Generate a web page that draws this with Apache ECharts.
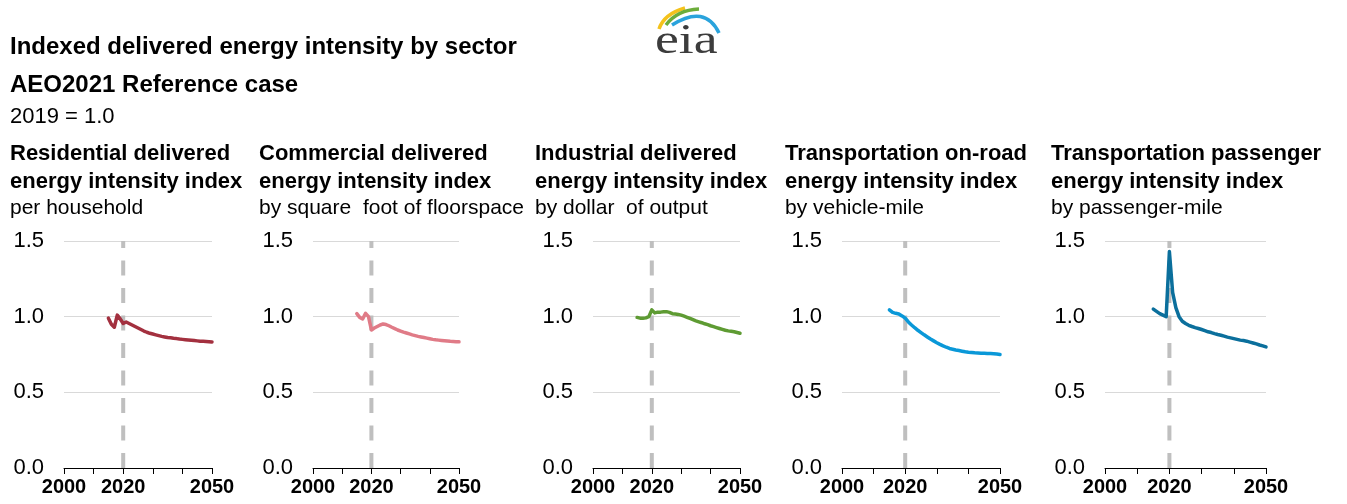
<!DOCTYPE html>
<html>
<head>
<meta charset="utf-8">
<title>Indexed delivered energy intensity by sector</title>
<script src="https://cdn.jsdelivr.net/npm/echarts@6/dist/echarts.min.js"></script>
<style>
html, body { margin: 0; padding: 0; background: #fff; }
#chart { width: 1347px; height: 504px; }
</style>
</head>
<body>
<div id="chart"></div>
<script>
// data (2019 = 1.0)
var years = [2015, 2016, 2017, 2018, 2019, 2020, 2021, 2022, 2023, 2024, 2025, 2026,
	2027, 2028, 2029, 2030, 2031, 2032, 2033, 2034, 2035, 2036, 2037, 2038, 2039,
	2040, 2041, 2042, 2043, 2044, 2045, 2046, 2047, 2048, 2049, 2050]

var residential = [0.99, 0.95, 0.93, 1.01, 0.985, 0.955, 0.965, 0.955, 0.945, 0.935,
	0.925, 0.915, 0.905, 0.897, 0.89, 0.885, 0.88, 0.875, 0.87, 0.866, 0.862, 0.86,
	0.857, 0.855, 0.852, 0.85, 0.848, 0.846, 0.844, 0.842, 0.84, 0.838, 0.837, 0.836,
	0.835, 0.833]
var commercial = [1.02, 0.995, 0.985, 1.022, 1.0, 0.912, 0.925, 0.935, 0.945, 0.952,
	0.948, 0.94, 0.93, 0.921, 0.912, 0.905, 0.898, 0.892, 0.886, 0.88, 0.875, 0.87,
	0.866, 0.862, 0.858, 0.854, 0.85, 0.847, 0.845, 0.843, 0.841, 0.839, 0.837, 0.836,
	0.835, 0.834]
var industrial = [0.995, 0.99, 0.99, 0.992, 1.0, 1.045, 1.025, 1.03, 1.03, 1.032, 1.033,
	1.028, 1.02, 1.018, 1.015, 1.01, 1.003, 0.996, 0.988, 0.98, 0.972, 0.966, 0.96,
	0.953, 0.947, 0.94, 0.934, 0.928, 0.922, 0.916, 0.91, 0.906, 0.903, 0.9, 0.895, 0.89]
var onRoad = [1.045, 1.028, 1.022, 1.018, 1.005, 0.99, 0.965, 0.945, 0.927, 0.91, 0.895,
	0.88, 0.866, 0.852, 0.84, 0.828, 0.817, 0.807, 0.798, 0.79, 0.785, 0.78, 0.776,
	0.772, 0.768, 0.765, 0.763, 0.761, 0.76, 0.759, 0.758, 0.757, 0.756, 0.755, 0.753, 0.75]
var passenger = [1.05, 1.035, 1.02, 1.01, 1.0, 1.43, 1.16, 1.06, 1.0, 0.97, 0.955, 0.943,
	0.935, 0.928, 0.922, 0.915, 0.908, 0.9, 0.895, 0.888, 0.882, 0.877, 0.871, 0.865,
	0.86, 0.855, 0.85, 0.845, 0.842, 0.838, 0.832, 0.826, 0.82, 0.813, 0.807, 0.8]

var panelTitles = [
	['Residential delivered', 'energy intensity index'],
	['Commercial delivered', 'energy intensity index'],
	['Industrial delivered', 'energy intensity index'],
	['Transportation on-road', 'energy intensity index'],
	['Transportation passenger', 'energy intensity index']
]
var panelSubtitles = ['per household', 'by square  foot of floorspace', 'by dollar  of output',
	'by vehicle-mile', 'by passenger-mile']
var xLabelYears = [2000, 2020, 2050]
var markYear = 2020

var panelSeries = [residential, commercial, industrial, onRoad, passenger]
var colors = ['#a3303f', '#e07b87', '#5e9b33', '#0a98d8', '#0b6f9c']

// panel layout (px)
var gridLeft = [64, 313, 593, 842, 1105]
var gridWidth = [148, 146, 147, 158, 161]
var textLeft = [10, 259, 535, 785, 1051]

var FONT = '"Liberation Sans", Arial, sans-serif'

var myChart = echarts.init(document.getElementById('chart'))

var grids = [], xAxes = [], yAxes = [], series = [], texts = []

panelSeries.forEach(function (vals, i) {
	grids.push({ left: gridLeft[i], width: gridWidth[i], top: 241, height: 227 })
	xAxes.push({
		type: 'value',
		gridIndex: i,
		min: 2000,
		max: 2050,
		interval: 10,
		axisLine: { lineStyle: { color: '#000', width: 1 } },
		axisTick: { length: 6, lineStyle: { color: '#000' } },
		splitLine: { show: false },
		axisLabel: {
			margin: 9,
			color: '#000',
			fontFamily: FONT,
			fontWeight: 'bold',
			fontSize: 20,
			showMinLabel: true,
			showMaxLabel: true,
			formatter: function (v) {
				return xLabelYears.indexOf(v) >= 0 ? String(v) : ''
			}
		}
	})
	yAxes.push({
		type: 'value',
		gridIndex: i,
		min: 0,
		max: 1.5,
		interval: 0.5,
		axisLine: { show: false },
		axisTick: { show: false },
		splitLine: { lineStyle: { color: '#d9d9d9', width: 1 } },
		axisLabel: {
			margin: 20,
			color: '#000',
			fontFamily: FONT,
			fontSize: 22,
			formatter: function (v) { return v.toFixed(1) }
		}
	})
	// dashed reference line at the last historical year
	series.push({
		type: 'line',
		xAxisIndex: i,
		yAxisIndex: i,
		silent: true,
		symbol: 'none',
		z: 1,
		data: [[markYear, 0], [markYear, 1.5]],
		lineStyle: { color: '#bfbfbf', width: 4, type: [15, 12.5] }
	})
	series.push({
		type: 'line',
		xAxisIndex: i,
		yAxisIndex: i,
		symbol: 'none',
		z: 3,
		data: years.map(function (y, k) { return [y, vals[k]] }),
		lineStyle: { color: colors[i], width: 3.5, cap: 'round', join: 'round' }
	})
	texts.push({
		type: 'text', left: textLeft[i], top: 143,
		style: { text: panelTitles[i][0], font: 'bold 22px ' + FONT, fill: '#000' }
	})
	texts.push({
		type: 'text', left: textLeft[i], top: 171,
		style: { text: panelTitles[i][1], font: 'bold 22px ' + FONT, fill: '#000' }
	})
	texts.push({
		type: 'text', left: textLeft[i], top: 198,
		style: { text: panelSubtitles[i], font: '21px ' + FONT, fill: '#000' }
	})
})

// chart titles
texts.push({
	type: 'text', left: 10, top: 35,
	style: { text: 'Indexed delivered energy intensity by sector', font: 'bold 24px ' + FONT, fill: '#000' }
})
texts.push({
	type: 'text', left: 10, top: 73,
	style: { text: 'AEO2021 Reference case', font: 'bold 24px ' + FONT, fill: '#000' }
})
texts.push({
	type: 'text', left: 10, top: 106,
	style: { text: '2019 = 1.0', font: '22px ' + FONT, fill: '#000' }
})

// eia logo (quadratic curves: bezierCurve without second control point)
texts.push({ type: 'bezierCurve', shape: { x1: 659, y1: 29, cpx1: 664, cpy1: 14, x2: 685, y2: 8 },
	style: { stroke: '#f4c21b', lineWidth: 3.5, fill: null } })
texts.push({ type: 'bezierCurve', shape: { x1: 666, y1: 25, cpx1: 677, cpy1: 10, x2: 699, y2: 9 },
	style: { stroke: '#6cad3b', lineWidth: 3.5, fill: null } })
texts.push({ type: 'bezierCurve', shape: { x1: 672, y1: 25, cpx1: 705, cpy1: 4, x2: 719, y2: 33 },
	style: { stroke: '#2aa3dc', lineWidth: 3.5, fill: null } })
texts.push({ type: 'text', x: 655, y: 21, scaleX: 1.28, originX: 0, originY: 0,
	style: { text: 'eia', x: 0, y: 0, font: '42px "Liberation Serif", "DejaVu Serif", serif',
		fill: '#3c3c3c' } })

myChart.setOption({
	animation: false,
	backgroundColor: '#fff',
	grid: grids,
	xAxis: xAxes,
	yAxis: yAxes,
	series: series,
	graphic: texts
})
</script>
</body>
</html>
